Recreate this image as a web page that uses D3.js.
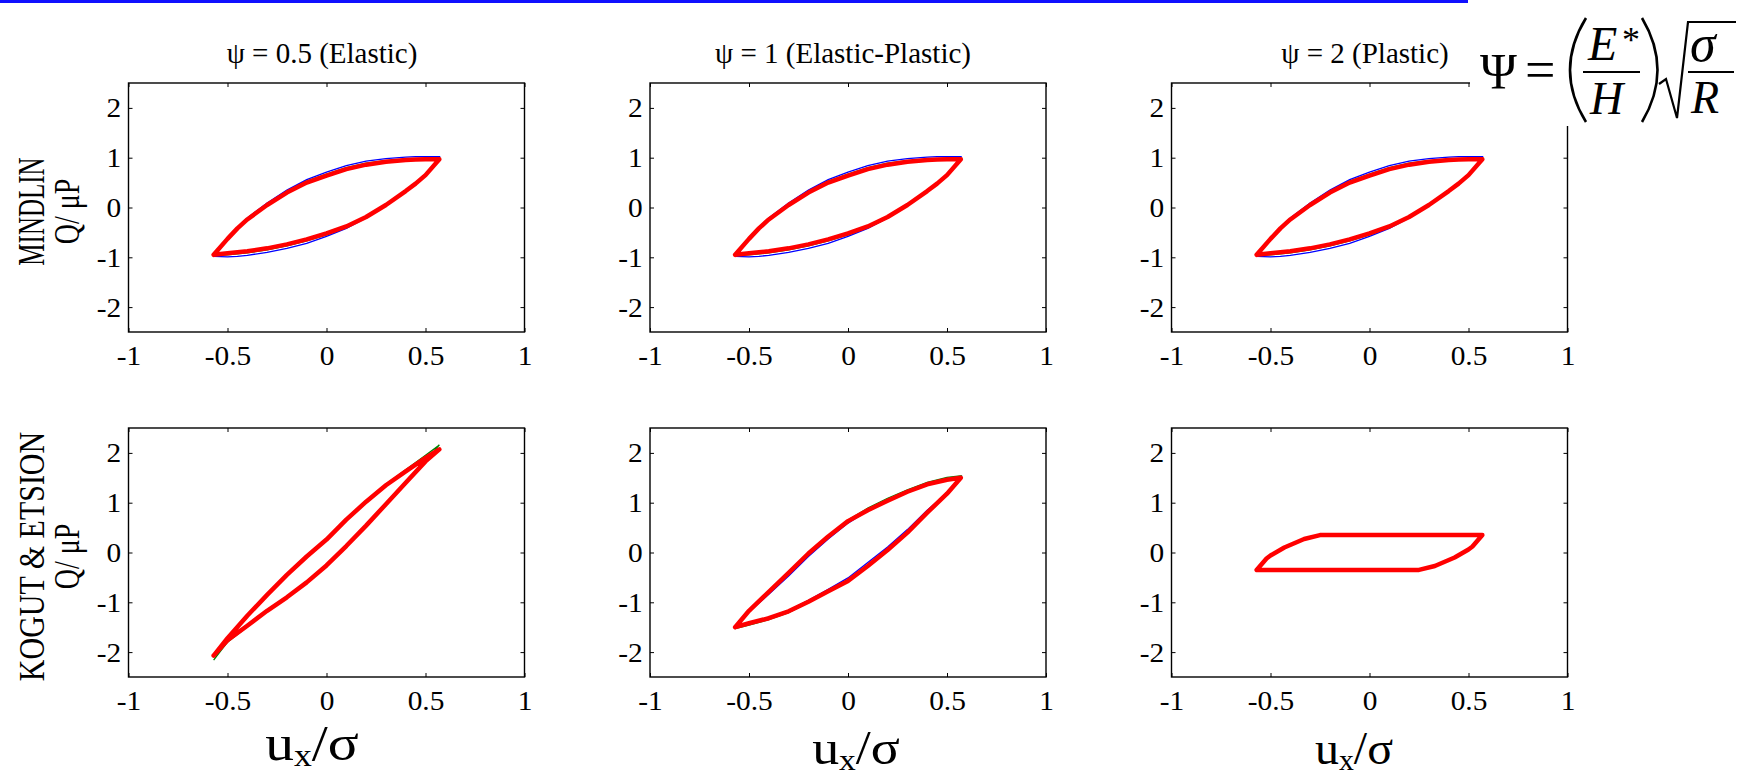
<!DOCTYPE html>
<html>
<head>
<meta charset="utf-8">
<script src="https://cdn.jsdelivr.net/npm/d3@7"></script>
<style>
  html, body { margin: 0; padding: 0; background: #fff; }
  svg text { font-family: "Liberation Serif", "Times New Roman", serif; fill: #000; }
</style>
</head>
<body>
<div id="chart"></div>
<script>
// ---- data ----
const colTitles = ['\u03C8 = 0.5 (Elastic)', '\u03C8 = 1 (Elastic-Plastic)', '\u03C8 = 2 (Plastic)'];
const rowNames = ['MINDLIN', 'KOGUT & ETSION'];
const xTicks = [-1, -0.5, 0, 0.5, 1];
const yTicks = [-2, -1, 0, 1, 2];

// Mindlin loop (same in all three top panels)
const mindlinX = [-0.57, -0.5, -0.45, -0.4, -0.3, -0.2, -0.1, 0, 0.1, 0.2, 0.3, 0.4, 0.45, 0.5, 0.57];
const mindlinLoad = [-0.95, -0.63, -0.42, -0.24, 0.05, 0.30, 0.50, 0.64, 0.77, 0.86, 0.92, 0.955, 0.965, 0.97, 0.97];
const mindlinUnload = [-0.95, -0.92, -0.90, -0.88, -0.82, -0.74, -0.64, -0.52, -0.38, -0.19, 0.05, 0.33, 0.48, 0.65, 0.97];
const mindlinLoadBlue = [-0.98, -0.62, -0.40, -0.21, 0.09, 0.35, 0.56, 0.71, 0.84, 0.93, 0.98, 1.01, 1.02, 1.02, 1.02];
const mindlinUnloadBlue = [-0.98, -0.99, -0.98, -0.96, -0.90, -0.82, -0.72, -0.58, -0.42, -0.21, 0.03, 0.32, 0.47, 0.64, 1.02];
const mindlinLoadGreen = [-0.96, -0.62, -0.41, -0.22, 0.07, 0.32, 0.53, 0.67, 0.80, 0.89, 0.94, 0.97, 0.98, 0.985, 0.99];
const mindlinUnloadGreen = [-0.96, -0.95, -0.93, -0.91, -0.85, -0.77, -0.67, -0.55, -0.40, -0.20, 0.04, 0.33, 0.48, 0.65, 0.99];

// Kogut & Etsion, psi = 0.5
const kogutElX = [-0.57, -0.5, -0.4, -0.3, -0.2, -0.1, 0, 0.1, 0.2, 0.3, 0.4, 0.5, 0.57];
const kogutElLoad = [-2.07, -1.72, -1.27, -0.85, -0.45, -0.08, 0.26, 0.66, 1.02, 1.35, 1.63, 1.90, 2.07];
const kogutElUnload = [-2.07, -1.76, -1.47, -1.17, -0.90, -0.60, -0.26, 0.13, 0.54, 0.97, 1.40, 1.83, 2.07];
const kogutElLoadBlue = [-2.09, -1.74, -1.29, -0.87, -0.47, -0.10, 0.24, 0.64, 1.00, 1.33, 1.61, 1.88, 2.09];
const kogutElUnloadBlue = [-2.09, -1.74, -1.45, -1.15, -0.88, -0.58, -0.24, 0.15, 0.56, 0.99, 1.42, 1.85, 2.09];
const kogutElLoadGreen = [-2.16, -1.76, -1.29, -0.86, -0.46, -0.09, 0.26, 0.66, 1.03, 1.37, 1.66, 1.95, 2.16];
const kogutElUnloadGreen = [-2.16, -1.80, -1.49, -1.18, -0.91, -0.61, -0.27, 0.12, 0.53, 0.96, 1.40, 1.83, 2.16];

// Kogut & Etsion, psi = 1
const kogutEpX = [-0.57, -0.5, -0.4, -0.3, -0.2, -0.1, 0, 0.1, 0.2, 0.3, 0.4, 0.5, 0.57];
const kogutEpLoad = [-1.5, -1.17, -0.79, -0.41, -0.02, 0.32, 0.63, 0.85, 1.04, 1.22, 1.37, 1.46, 1.5];
const kogutEpUnload = [-1.5, -1.42, -1.32, -1.18, -0.99, -0.78, -0.57, -0.27, 0.05, 0.40, 0.80, 1.18, 1.5];
const kogutEpLoadBlue = [-1.52, -1.19, -0.84, -0.47, -0.08, 0.27, 0.59, 0.84, 1.04, 1.22, 1.36, 1.47, 1.52];
const kogutEpUnloadBlue = [-1.52, -1.41, -1.30, -1.16, -0.96, -0.74, -0.51, -0.20, 0.11, 0.46, 0.85, 1.19, 1.52];
const kogutEpLoadGreen = [-1.53, -1.17, -0.79, -0.41, -0.02, 0.33, 0.65, 0.89, 1.09, 1.26, 1.41, 1.51, 1.54];
const kogutEpUnloadGreen = [-1.53, -1.46, -1.35, -1.21, -1.01, -0.79, -0.58, -0.27, 0.05, 0.40, 0.80, 1.18, 1.54];

// Kogut & Etsion, psi = 2
const kogutPlX = [-0.57, -0.52, -0.5, -0.43, -0.33, -0.25, 0.25, 0.33, 0.43, 0.5, 0.52, 0.57];
const kogutPlLoad = [-0.35, -0.12, -0.06, 0.10, 0.27, 0.35, 0.35, 0.35, 0.35, 0.35, 0.35, 0.35];
const kogutPlUnload = [-0.35, -0.35, -0.35, -0.35, -0.35, -0.35, -0.35, -0.27, -0.10, 0.06, 0.12, 0.35];

// ---- layout ----
const W = 1740, H = 780;
const colLeft = [128.5, 650, 1171.5];
const rowTop = [83, 428];
const boxW = 396, boxH = 249;
const titleX = [322, 843, 1365];
// x label: centre, baseline, font size, horizontal stretch
const xLabelPos = [[312, 760, 50, 1.15], [856, 764, 49, 1.1], [1354, 764, 47, 1.02]];
// row labels: x of baseline, font size, stretch
const rowLabelStyle = [[44, 25, 1.5], [44, 30, 1.2]];

function loop(xs, load, unload) {
  const up = xs.map((x, i) => [x, load[i]]);
  const down = xs.map((x, i) => [x, unload[i]]).reverse();
  return up.concat(down);
}

const mindlin = {
  blue: loop(mindlinX, mindlinLoadBlue, mindlinUnloadBlue),
  green: loop(mindlinX, mindlinLoadGreen, mindlinUnloadGreen),
  red: loop(mindlinX, mindlinLoad, mindlinUnload)
};
const panels = [
  {row: 0, col: 0, ...mindlin},
  {row: 0, col: 1, ...mindlin},
  {row: 0, col: 2, ...mindlin},
  {row: 1, col: 0,
    blue: loop(kogutElX, kogutElLoadBlue, kogutElUnloadBlue),
    green: loop(kogutElX, kogutElLoadGreen, kogutElUnloadGreen),
    red: loop(kogutElX, kogutElLoad, kogutElUnload)},
  {row: 1, col: 1,
    blue: loop(kogutEpX, kogutEpLoadBlue, kogutEpUnloadBlue),
    green: loop(kogutEpX, kogutEpLoadGreen, kogutEpUnloadGreen),
    red: loop(kogutEpX, kogutEpLoad, kogutEpUnload)},
  {row: 1, col: 2,
    blue: loop(kogutPlX, kogutPlLoad, kogutPlUnload),
    green: loop(kogutPlX, kogutPlLoad, kogutPlUnload),
    red: loop(kogutPlX, kogutPlLoad, kogutPlUnload)}
];

const svg = d3.select('#chart').append('svg')
  .attr('width', W)
  .attr('height', H);

svg.append('rect').attr('width', W).attr('height', H).attr('fill', '#fff');

// blue rule along the top
svg.append('rect')
  .attr('x', 0).attr('y', 0)
  .attr('width', 1468).attr('height', 3)
  .attr('fill', '#1010ff');

// column titles
svg.selectAll('.title')
  .data(colTitles)
  .enter()
  .append('text')
  .attr('class', 'title')
  .attr('text-anchor', 'middle')
  .attr('font-size', 29)
  .attr('x', (d, i) => titleX[i])
  .attr('y', 63)
  .text(d => d);

panels.forEach(p => {
  const x0 = colLeft[p.col], y0 = rowTop[p.row];
  const x = d3.scaleLinear().domain([-1, 1]).range([0, boxW]);
  const y = d3.scaleLinear().domain([-2.5, 2.5]).range([boxH, 0]);

  const g = svg.append('g').attr('transform', `translate(${x0},${y0})`);

  const fmt = d => String(d);

  g.append('g')
    .attr('transform', `translate(0,${boxH})`)
    .call(d3.axisBottom(x).tickValues(xTicks).tickSize(-4).tickSizeOuter(0).tickPadding(13).tickFormat(fmt));
  g.append('g')
    .call(d3.axisTop(x).tickValues(xTicks).tickSize(-4).tickSizeOuter(0).tickFormat(''));
  g.append('g')
    .call(d3.axisLeft(y).tickValues(yTicks).tickSize(-4).tickSizeOuter(0).tickPadding(7).tickFormat(fmt));
  g.append('g')
    .attr('transform', `translate(${boxW},0)`)
    .call(d3.axisRight(y).tickValues(yTicks).tickSize(-4).tickSizeOuter(0).tickFormat(''));

  g.selectAll('.domain').remove();
  g.selectAll('.tick line').attr('stroke', '#000').attr('stroke-width', 1);
  g.selectAll('.tick text')
    .attr('font-family', '"Liberation Serif", "Times New Roman", serif')
    .attr('font-size', 28)
    .attr('fill', '#000')
    .attr('transform', 'scale(1.05,1)');

  g.append('rect')
    .attr('width', boxW).attr('height', boxH)
    .attr('fill', 'none')
    .attr('stroke', '#000')
    .attr('stroke-width', 1.4);

  const line = d3.line().x(d => x(d[0])).y(d => y(d[1]));

  g.append('path').datum(p.blue)
    .attr('d', line).attr('fill', 'none')
    .attr('stroke', '#0000ff').attr('stroke-width', 1.3);
  g.append('path').datum(p.green)
    .attr('d', line).attr('fill', 'none')
    .attr('stroke', '#008000').attr('stroke-width', 1.3);
  g.append('path').datum(p.red)
    .attr('d', line).attr('fill', 'none')
    .attr('stroke', '#ff0000').attr('stroke-width', 4.5)
    .attr('stroke-linejoin', 'round').attr('stroke-linecap', 'round');
});

// row labels
rowNames.forEach((name, r) => {
  const cy = rowTop[r] + boxH / 2;
  const st = rowLabelStyle[r];
  svg.append('text')
    .attr('text-anchor', 'middle')
    .attr('font-size', st[1])
    .attr('transform', `translate(${st[0]},${cy + 4}) scale(${st[2]},1) rotate(-90)`)
    .text(name);
  svg.append('text')
    .attr('text-anchor', 'middle')
    .attr('font-size', 28)
    .attr('transform', `translate(79,${cy + 4}) scale(1.25,1) rotate(-90)`)
    .text('Q/ \u03BCP');
});

// x labels
xLabelPos.forEach(pos => {
  const t = svg.append('text')
    .attr('text-anchor', 'middle')
    .attr('font-size', pos[2])
    .attr('transform', `translate(${pos[0]},${pos[1]}) scale(${pos[3]},1)`);
  t.append('tspan').text('u');
  t.append('tspan').attr('font-size', pos[2] * 0.62).attr('dy', 6).text('x');
  t.append('tspan').attr('dy', -6).text('/\u03C3');
});

// formula box in the top right corner
const f = svg.append('g');
f.append('rect').attr('x', 1470).attr('y', 0).attr('width', 270).attr('height', 126).attr('fill', '#fff');
f.append('text').attr('x', 1480).attr('y', 88).attr('font-size', 50).text('\u03A8');
f.append('text').attr('x', 1525).attr('y', 88).attr('font-size', 54).text('=');
f.append('path').attr('d', 'M1586,18 Q1554,70 1586,122').attr('fill', 'none').attr('stroke', '#000').attr('stroke-width', 2.6);
f.append('text').attr('x', 1588).attr('y', 60).attr('font-size', 48).attr('font-style', 'italic').text('E');
f.append('text').attr('x', 1622).attr('y', 52).attr('font-size', 36).text('*');
f.append('line').attr('x1', 1583).attr('x2', 1640).attr('y1', 72).attr('y2', 72).attr('stroke', '#000').attr('stroke-width', 2);
f.append('text').attr('x', 1590).attr('y', 114).attr('font-size', 46).attr('font-style', 'italic').text('H');
f.append('path').attr('d', 'M1642,18 Q1673,70 1642,122').attr('fill', 'none').attr('stroke', '#000').attr('stroke-width', 2.6);
f.append('path').attr('d', 'M1659,84 L1666,79 L1677,118 L1688,22 L1736,22').attr('fill', 'none').attr('stroke', '#000').attr('stroke-width', 2.2);
f.append('text').attr('x', 1690).attr('y', 61).attr('font-size', 52).attr('font-style', 'italic').text('\u03C3');
f.append('line').attr('x1', 1688).attr('x2', 1734).attr('y1', 72).attr('y2', 72).attr('stroke', '#000').attr('stroke-width', 2);
f.append('text').attr('x', 1691).attr('y', 113).attr('font-size', 46).attr('font-style', 'italic').text('R');
</script>
</body>
</html>
